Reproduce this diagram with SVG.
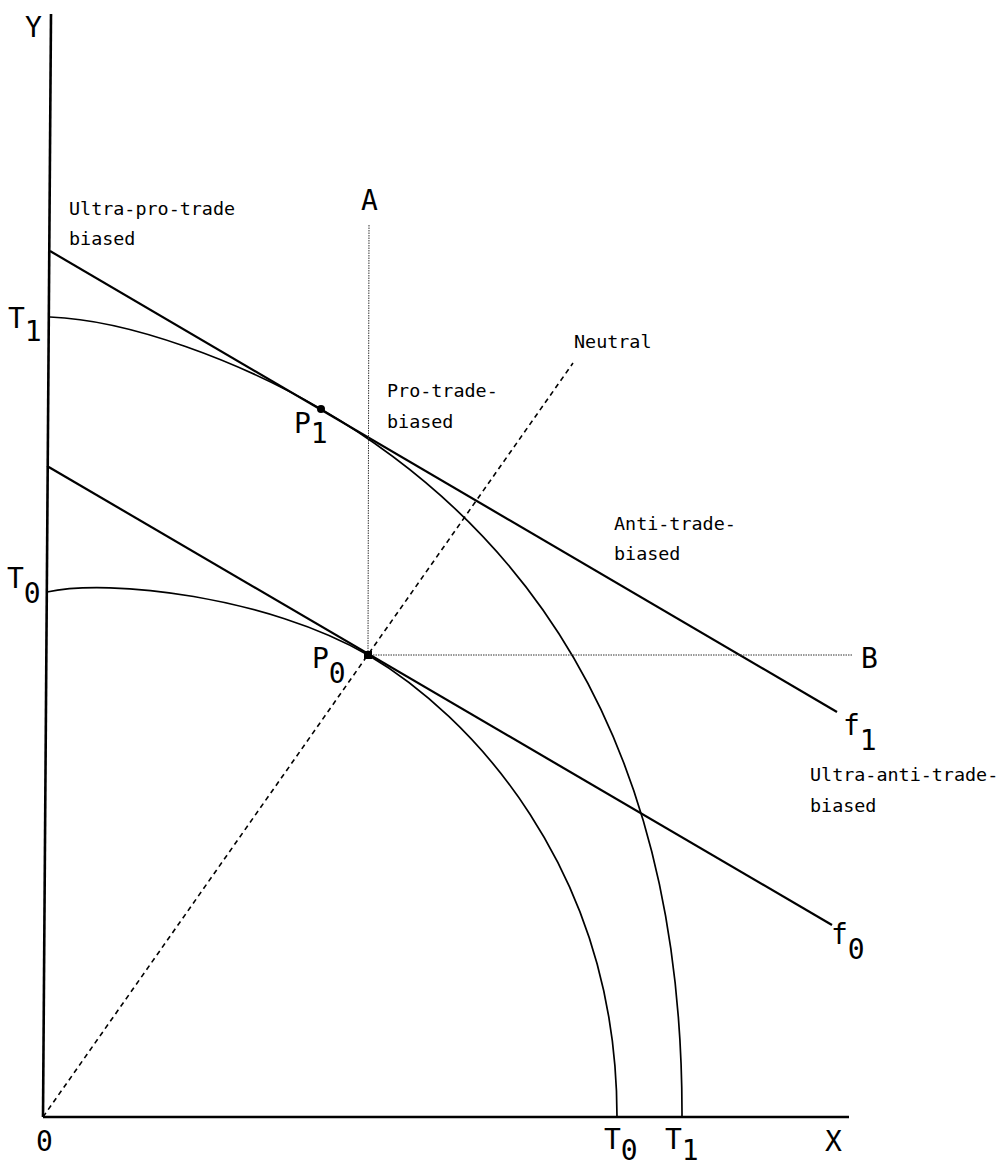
<svg xmlns="http://www.w3.org/2000/svg" width="1004" height="1168" viewBox="0 0 1004 1168">
<style>
.big{font-family:"DejaVu Sans Mono","Liberation Mono",monospace;font-size:28px;fill:#000}
.sm{font-family:"DejaVu Sans Mono","Liberation Mono",monospace;font-size:18.4px;fill:#000}
.ax{stroke:#000;stroke-width:2.6;fill:none}
.bl{stroke:#000;stroke-width:2.2;fill:none}
.cv{stroke:#000;stroke-width:1.7;fill:none}
.dot{stroke:#333;stroke-width:1;fill:none;stroke-dasharray:1.5 1}
.dash{stroke:#000;stroke-width:1.6;fill:none;stroke-dasharray:5 4}
</style>
<rect width="1004" height="1168" fill="#fff"/>
<g id="axes">
<line class="ax" x1="51" y1="14" x2="43" y2="1117"/>
<line class="ax" x1="43" y1="1117" x2="849" y2="1117"/>
</g>
<g id="connectors">
<line id="f1" class="bl" x1="50" y1="251" x2="837" y2="712"/>
<line id="f0" class="bl" x1="47" y1="466" x2="832" y2="925"/>
<path id="T0curve" class="cv" d="M47,592 C110,578 268,597 368,655 C468,713.5 617,867 617,1117"/>
<path id="T1curve" class="cv" d="M50,317 C130,320 241,362 321,409 C541,537.9 683,757 682,1117"/>
<line id="lineA" class="dot" x1="369" y1="225" x2="368" y2="655"/>
<line id="lineB" class="dot" x1="368" y1="655" x2="852" y2="655"/>
<line id="neutral" class="dash" x1="43" y1="1117" x2="573" y2="363"/>
</g>
<g id="P1"><circle cx="321" cy="409" r="4" fill="#000"/></g>
<g id="P0"><rect x="364" y="651" width="8" height="8" fill="#000"/></g>
<g id="labels">
<text class="big" x="25" y="37">Y</text>
<text class="big" x="8" y="328">T<tspan dy="13">1</tspan></text>
<text class="big" x="7" y="588">T<tspan dy="15">0</tspan></text>
<text class="big" x="294" y="433">P<tspan dy="10">1</tspan></text>
<text class="big" x="312" y="668">P<tspan dy="15">0</tspan></text>
<text class="big" x="361" y="210">A</text>
<text class="big" x="861" y="668">B</text>
<text class="big" x="843" y="735">f<tspan dy="15">1</tspan></text>
<text class="big" x="831" y="944">f<tspan dy="15">0</tspan></text>
<text class="big" x="36" y="1151">0</text>
<text class="big" x="604" y="1149">T<tspan dy="11">0</tspan></text>
<text class="big" x="665" y="1149">T<tspan dy="11">1</tspan></text>
<text class="big" x="825" y="1151">X</text>
</g>
<g id="region-labels">
<text class="sm" x="69" y="215">Ultra-pro-trade</text>
<text class="sm" x="69" y="245">biased</text>
<text class="sm" x="387" y="397">Pro-trade-</text>
<text class="sm" x="387" y="428">biased</text>
<text class="sm" x="574" y="348">Neutral</text>
<text class="sm" x="614" y="530">Anti-trade-</text>
<text class="sm" x="614" y="560">biased</text>
<text class="sm" x="810" y="781">Ultra-anti-trade-</text>
<text class="sm" x="810" y="812">biased</text>
</g>
</svg>
